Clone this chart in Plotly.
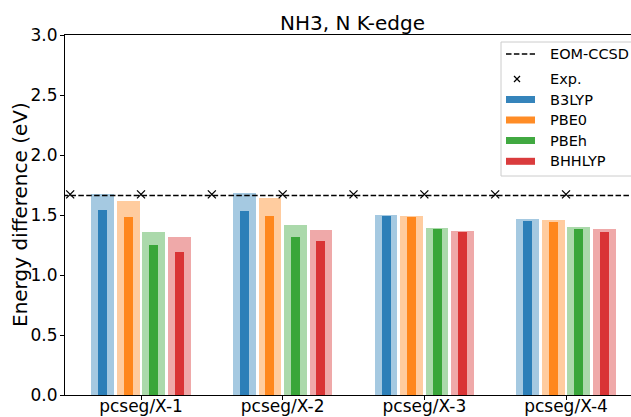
import plotly.graph_objects as go

# ---------------- data ----------------
basis_sets = ["pcseg/X-1", "pcseg/X-2", "pcseg/X-3", "pcseg/X-4"]
functionals = ["B3LYP", "PBE0", "PBEh", "BHHLYP"]

# wide, light bars
light_b3lyp = [1.675, 1.683, 1.500, 1.467]
light_pbe0 = [1.617, 1.642, 1.492, 1.458]
light_pbeh = [1.358, 1.417, 1.392, 1.400]
light_bhhlyp = [1.317, 1.375, 1.367, 1.383]

# narrow, dark bars
dark_b3lyp = [1.542, 1.533, 1.492, 1.450]
dark_pbe0 = [1.483, 1.492, 1.483, 1.442]
dark_pbeh = [1.250, 1.317, 1.383, 1.383]
dark_bhhlyp = [1.194, 1.283, 1.358, 1.358]

eom_ccsd = 1.662
exp_x = [-0.5, 0.0, 0.5, 1.0, 1.5, 2.0, 2.5, 3.0, 3.5]
exp_y = [1.672, 1.672, 1.672, 1.672, 1.672, 1.672, 1.672, 1.672, 1.672]

yticks = [0.0, 0.5, 1.0, 1.5, 2.0, 2.5, 3.0]
ytick_labels = ["0.0", "0.5", "1.0", "1.5", "2.0", "2.5", "3.0"]

# ---------------- style ----------------
FONT = "DejaVu Sans"
rgb = {"B3LYP": (31, 119, 180), "PBE0": (255, 127, 14),
       "PBEh": (44, 160, 44), "BHHLYP": (214, 39, 40)}
centers = {"B3LYP": -0.27, "PBE0": -0.09, "PBEh": 0.09, "BHHLYP": 0.27}
W_LIGHT, W_DARK = 0.16, 0.064

light = {"B3LYP": light_b3lyp, "PBE0": light_pbe0, "PBEh": light_pbeh, "BHHLYP": light_bhhlyp}
dark = {"B3LYP": dark_b3lyp, "PBE0": dark_pbe0, "PBEh": dark_pbeh, "BHHLYP": dark_bhhlyp}

xpos = list(range(len(basis_sets)))

fig = go.Figure()
for f in functionals:
    r, g, b = rgb[f]
    fig.add_trace(go.Bar(x=xpos, y=light[f], width=W_LIGHT, offset=centers[f] - W_LIGHT / 2,
                         marker=dict(color=f"rgba({r},{g},{b},0.4)", line=dict(width=0)),
                         showlegend=False, hoverinfo="skip"))
for f in functionals:
    r, g, b = rgb[f]
    fig.add_trace(go.Bar(x=xpos, y=dark[f], width=W_DARK, offset=centers[f] - W_DARK / 2,
                         marker=dict(color=f"rgba({r},{g},{b},0.9)", line=dict(width=0)),
                         showlegend=False, hoverinfo="skip", name=f))

fig.add_trace(go.Scatter(x=[-1, 5], y=[eom_ccsd, eom_ccsd], mode="lines",
                         line=dict(color="black", width=1.5, dash="5.5px,2.4px"),
                         showlegend=False, hoverinfo="skip"))
fig.add_trace(go.Scatter(x=exp_x, y=exp_y, mode="markers",
                         marker=dict(symbol="x-thin", size=8, line=dict(color="black", width=1.3)),
                         showlegend=False, hoverinfo="skip"))

# ---------------- layout geometry (pixels) ----------------
L, R, T, B = 65, 631, 35, 395
PW, PH = R - L, B - T


def px(x):
    return (x - L) / PW


def py(y):
    return (B - y) / PH


xmin = -0.5365
xmax = xmin + (R - L) / 141.67

fig.update_layout(
    width=631, height=417,
    margin=dict(l=L, r=631 - R, t=T, b=417 - B, pad=0, autoexpand=False),
    paper_bgcolor="white", plot_bgcolor="white",
    barmode="overlay", bargap=0,
    font=dict(family=FONT, size=17, color="black"),
    xaxis=dict(range=[xmin, xmax], tickvals=xpos, ticktext=basis_sets, automargin=False,
               showline=True, linecolor="black", linewidth=1.1, mirror=True,
               ticks="outside", ticklen=4, tickwidth=1.1, tickcolor="black",
               ticklabelstandoff=-8,
               showgrid=False, zeroline=False, tickfont=dict(size=17)),
    yaxis=dict(range=[0, 3], tickvals=yticks, ticktext=ytick_labels, automargin=False,
               showline=True, linecolor="black", linewidth=1.1, mirror=False,
               ticks="outside", ticklen=4, tickwidth=1.1, tickcolor="black",
               ticklabelstandoff=-1,
               showgrid=False, zeroline=False, tickfont=dict(size=17)),
)

annotations = [
    dict(text="NH3, N K-edge", x=px(352.8), y=py(23), xref="paper", yref="paper",
         xanchor="center", yanchor="middle", showarrow=False, font=dict(size=20)),
    dict(text="Energy difference (eV)", x=px(20), y=py(215), xref="paper", yref="paper",
         xanchor="center", yanchor="middle", textangle=-90, showarrow=False, font=dict(size=20)),
]

shapes = []
# legend frame
shapes.append(dict(type="rect", xref="paper", yref="paper",
                   x0=px(501), x1=px(640), y0=py(176), y1=py(42),
                   line=dict(color="#cccccc", width=1), fillcolor="rgba(255,255,255,0.8)",
                   layer="above"))
# legend handles
hx0, hx1 = 506, 535
shapes.append(dict(type="line", xref="paper", yref="paper", x0=px(hx0), x1=px(hx1),
                   y0=py(54), y1=py(54), line=dict(color="black", width=1.5, dash="5.5px,2.4px"),
                   layer="above"))
xc, yc, s = 517, 79, 3
shapes.append(dict(type="line", xref="paper", yref="paper", x0=px(xc - s), x1=px(xc + s),
                   y0=py(yc - s), y1=py(yc + s), line=dict(color="black", width=1.2), layer="above"))
shapes.append(dict(type="line", xref="paper", yref="paper", x0=px(xc - s), x1=px(xc + s),
                   y0=py(yc + s), y1=py(yc - s), line=dict(color="black", width=1.2), layer="above"))

legend_rows = [("EOM-CCSD", 54), ("Exp.", 79)]
swatch_y = {"B3LYP": 99.5, "PBE0": 120, "PBEh": 140.5, "BHHLYP": 161.3}
for f in functionals:
    r, g, b = rgb[f]
    yy = swatch_y[f]
    shapes.append(dict(type="rect", xref="paper", yref="paper", x0=px(hx0), x1=px(hx1),
                       y0=py(yy + 3.5), y1=py(yy - 3.5),
                       line=dict(width=0), fillcolor=f"rgba({r},{g},{b},0.9)", layer="above"))
    legend_rows.append((f, yy))

for label, yy in legend_rows:
    annotations.append(dict(text=label, x=px(548), y=py(yy), xref="paper", yref="paper",
                            xanchor="left", yanchor="middle", showarrow=False,
                            font=dict(size=14.5)))

fig.update_layout(annotations=annotations, shapes=shapes)

fig.write_html("out.html")
